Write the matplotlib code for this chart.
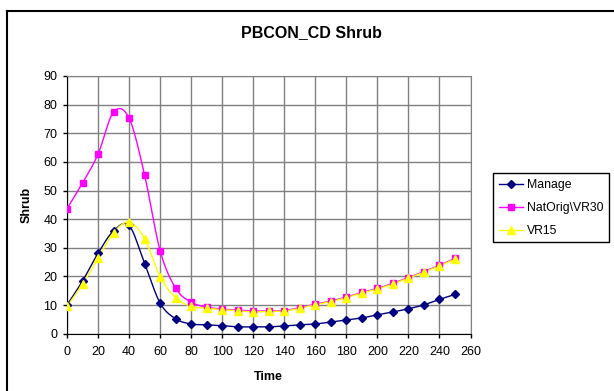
import numpy as np
import matplotlib
matplotlib.use("Agg")
import matplotlib.pyplot as plt
from matplotlib.lines import Line2D

plt.rcParams['font.family'] = ['Liberation Sans', 'DejaVu Sans']

time = list(range(0, 260, 10))
manage = [10.0, 18.4, 28.1, 35.9, 37.8, 24.5, 10.7, 5.2, 3.4, 3.1, 2.8, 2.4, 2.4, 2.4, 2.7,
          3.1, 3.4, 4.1, 4.8, 5.5, 6.6, 7.6, 8.7, 10.1, 12.0, 13.7]
natorig = [43.6, 52.6, 62.7, 77.4, 75.3, 55.4, 29.0, 15.9, 11.0, 9.3, 8.6, 8.3, 7.9, 8.0, 8.1,
           9.1, 10.3, 11.4, 12.8, 14.4, 15.8, 17.6, 19.6, 21.7, 23.9, 26.3]
vr15 = [9.5, 17.3, 26.3, 35.3, 38.9, 33.2, 19.9, 12.6, 9.5, 8.9, 8.4, 8.0, 7.6, 7.8, 7.9,
        8.9, 10.1, 11.2, 12.6, 14.2, 15.6, 17.4, 19.4, 21.5, 23.7, 26.1]

series = [
    ("Manage", manage, "#000080", "D", 4.5),
    ("NatOrig\\VR30", natorig, "#FF00FF", "s", 5),
    ("VR15", vr15, "#FFFF00", "^", 6),
]


def smooth(x, y, n=20):
    x = np.asarray(x, float)
    y = np.asarray(y, float)
    px = np.concatenate([[2 * x[0] - x[1]], x, [2 * x[-1] - x[-2]]])
    py = np.concatenate([[2 * y[0] - y[1]], y, [2 * y[-1] - y[-2]]])
    xs, ys = [], []
    t = np.linspace(0, 1, n, endpoint=False)
    for i in range(1, len(px) - 2):
        p0x, p1x, p2x, p3x = px[i - 1:i + 3]
        p0y, p1y, p2y, p3y = py[i - 1:i + 3]
        for (a, b, c, d, out) in ((p0x, p1x, p2x, p3x, xs), (p0y, p1y, p2y, p3y, ys)):
            v = 0.5 * ((2 * b) + (-a + c) * t + (2 * a - 5 * b + 4 * c - d) * t ** 2
                       + (-a + 3 * b - 3 * c + d) * t ** 3)
            out.extend(v)
    xs.append(x[-1])
    ys.append(y[-1])
    return np.array(xs), np.array(ys)


fig = plt.figure(figsize=(6.14, 3.91), dpi=100)
ax = fig.add_axes([67 / 614, 1 - 333.7 / 391, (470.5 - 67) / 614, (333.7 - 76) / 391])

handles = []
for name, vals, col, mk, ms in series:
    sx, sy = smooth(time, vals)
    ax.plot(sx, sy, color=col, lw=1.0, zorder=3)
    ax.plot(time, vals, linestyle='none', marker=mk, markersize=ms, color=col,
            markeredgecolor=col, zorder=4)
    handles.append(Line2D([], [], color=col, lw=1.0, marker=mk, markersize=ms,
                          markeredgecolor=col, label=name))

ax.set_xlim(0, 260)
ax.set_ylim(0, 90)
ax.set_xticks(range(0, 261, 20))
ax.set_yticks(range(0, 91, 10))
ax.grid(True, color="#808080", lw=1.0, zorder=0)
ax.set_axisbelow(True)
for s in ['top', 'right']:
    ax.spines[s].set_color("#808080")
for s in ['left', 'bottom']:
    ax.spines[s].set_color("#000000")
ax.tick_params(direction='out', length=3, width=1, labelsize=9, colors='black')
ax.tick_params(axis='x', pad=6)
ax.tick_params(axis='y', pad=4)
ax.set_xlabel("Time", fontsize=9, fontweight='bold', labelpad=9)
ax.set_ylabel("Shrub", fontsize=9, fontweight='bold', labelpad=8)

fig.text(311.8 / 614, 1 - 33 / 391, "PBCON_CD Shrub", fontsize=11.5, fontweight='bold',
         ha='center', va='center')

leg = fig.legend(handles=handles, loc='upper left',
                 bbox_to_anchor=(493.3 / 614, 1 - 173.3 / 391), fontsize=8.8,
                 fancybox=False, frameon=True, edgecolor='black', framealpha=1,
                 handlelength=2.0, handletextpad=0.3, borderpad=0.45, labelspacing=0.9,
                 borderaxespad=0)
leg.get_frame().set_linewidth(1.0)

# outer chart border
fig.add_artist(Line2D([6.5 / 614, 6.5 / 614], [0, 1 - 10.5 / 391], color='black', lw=1.5,
                      transform=fig.transFigure))
fig.add_artist(Line2D([6.5 / 614, 1], [1 - 10.5 / 391, 1 - 10.5 / 391], color='black', lw=1.5,
                      transform=fig.transFigure))

fig.savefig("out.png", dpi=100)
